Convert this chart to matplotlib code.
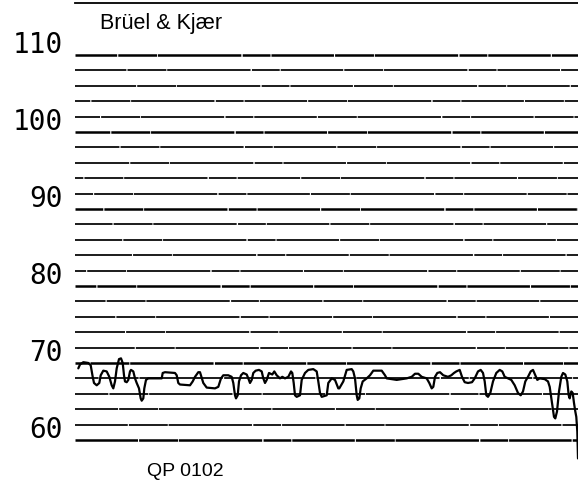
import matplotlib
matplotlib.use("Agg")
import matplotlib.pyplot as plt
from matplotlib.transforms import ScaledTranslation

plt.rcParams["lines.scale_dashes"] = False

# Level recorder trace (time in arbitrary recorder units, level in dB)
t = [3.3, 5, 8.3, 13.3, 15.7, 17.7, 19, 21.7, 24.3, 25.7, 28.3, 31.7, 34.3, 36.7, 38.3,
     40, 41.7, 44, 46, 47.7, 49, 50, 51.7, 53.3, 55, 56, 58.3, 60, 61.7, 64, 65.7, 66.7,
     68.3, 69.3, 71, 73.3, 86.7, 87.7, 90, 100, 101.7, 103.3, 105, 115, 117.7, 120,
     123.3, 125,
     128.3, 131.7, 140, 143.3, 146, 148.3, 153.3, 156.7, 158.3, 160, 161, 162.7, 164,
     166, 168.3, 171.7, 173.3, 175, 176.7, 178.3, 180.7, 184, 186.7, 188.3, 190, 191.7,
     194, 197.3, 199.3, 201.7, 205, 207.3, 210, 213.3, 216, 217.3, 218.7, 220, 221.7,
     225, 226.7, 230, 233.3, 238.3, 241.7, 243.3, 245, 246.7, 251.7,
     253.3, 256.7, 260, 263.3, 264.3, 268.3, 271.7, 276.7, 278.3, 280, 281.7, 282.7,
     284.3, 285.7, 287.7, 291.7, 295, 298.3, 306.7, 310, 311.7, 321.7, 331.7, 336.7,
     340, 343.3, 346.7, 351.7, 354.3, 356.7, 358.3, 360, 362.3, 365, 368.3, 373,
     376.3, 379, 381.3, 384.7, 387, 389.7, 393, 397, 399.7, 403, 405.7, 408, 409.7,
     411.3, 413, 415.3, 418, 421.3, 424.7, 427.3, 429.7, 433, 436.3, 439.7, 443, 445.7,
     448, 450.3, 453, 455.7, 458, 460.3, 462.3, 464.7, 469.7, 473, 474.7, 477, 479,
     480.3, 482, 484, 486.3, 488, 490.3, 492.3, 493.7, 494.7, 496.3, 497.7, 499, 500.3,
     501.3, 502.3, 503]
level = [69.3, 69.8, 70.1, 70.0, 69.7, 68.2, 67.4, 67.1, 67.4, 68.4, 69.0, 68.9, 68.2,
         67.1, 66.7, 67.6, 69.3, 70.5, 70.6, 70.0, 68.4, 67.6, 67.5, 67.8, 68.9, 69.1,
         68.9, 68.0, 67.4, 66.7, 65.4, 65.1, 65.4, 66.7, 67.8, 68.0, 68.0, 68.7, 68.8,
         68.7, 68.4, 67.4, 67.2, 67.1, 67.6, 68.2, 68.8, 68.8,
         67.4, 66.8, 66.7, 66.9, 68.0, 68.4, 68.4, 68.2, 67.4, 65.8, 65.4, 65.8, 67.6,
         68.4, 68.7, 68.5, 68.0, 67.4, 67.8, 68.7, 69.0, 69.1, 68.9, 68.0, 67.4, 67.8,
         68.7, 68.5, 68.9, 68.4, 68.0, 68.2, 68.0, 68.2, 68.9, 68.7, 67.4, 65.8, 65.6,
         65.8, 67.8, 68.7, 69.1, 69.2, 68.9, 67.6, 66.1, 65.6, 65.8,
         67.4, 68.0, 67.8, 66.7, 66.7, 67.6, 69.1, 69.2, 68.9, 68.0, 65.8, 65.2,
         65.4, 66.7, 67.6, 68.0, 68.4, 69.0, 69.0, 68.4, 68.0, 67.8, 68.0, 68.2,
         68.6, 68.6, 68.2, 68.0, 67.4, 66.7, 66.9, 68.2, 68.7, 68.8, 68.4, 68.2,
         68.4, 68.7, 68.9, 69.1, 68.2, 67.5, 67.4, 67.5, 68.0, 68.9, 69.1, 68.7, 67.6,
         65.8, 65.6, 66.1, 67.6, 68.7, 69.1, 68.9, 68.2, 68.0, 67.8, 67.1, 66.1, 65.8,
         66.3, 67.6, 68.2, 68.9, 69.1, 68.4, 67.8, 68.0, 67.9, 67.6, 66.9, 64.8, 63.0,
         62.8, 63.7, 66.3, 68.2, 68.7, 68.5, 67.6, 65.8, 65.4, 66.3, 66.1, 64.8, 63.7,
         63.0, 61.1, 57.6]

major_ticks = [110, 100, 90, 80, 70, 60]
major_labels = ["110", "100", "90", "80", "70", "60"]
grid_levels = list(range(60, 111, 2))
brand = "Brüel & Kjær"
paper_code = "QP 0102"

W, H = 578, 483
fig = plt.figure(figsize=(W / 100, H / 100), dpi=100)
fig.patch.set_facecolor("white")
ax = fig.add_axes([75 / W, 0, 503 / W, (H - 2.7) / H])
ax.set_xlim(0, 503)
ax.set_ylim(54.41, 116.79)

for i, g in enumerate(grid_levels):
    lw = 1.8 if g % 10 == 0 else 1.25
    pattern = (i * 7 % 40, (45, 0.8, 28, 0.6, 60, 1.0, 20, 0.7))
    ax.axhline(g, color="black", lw=lw, ls=pattern, zorder=1)

ax.plot(t, level, color="black", lw=1.6, solid_joinstyle="round",
        solid_capstyle="round", zorder=3)

for s in ["left", "right", "bottom"]:
    ax.spines[s].set_visible(False)
ax.spines["top"].set_linewidth(1.3)
ax.set_xticks([])
ax.set_yticks(major_ticks)
ax.set_yticklabels(major_labels, family="DejaVu Sans Mono", fontsize=20)
ax.tick_params(axis="y", length=0, pad=9)
offset = ScaledTranslation(0, 13 / 100, fig.dpi_scale_trans)
for lab in ax.get_yticklabels():
    lab.set_transform(lab.get_transform() + offset)

fig.text(100 / W, 1 - 29 / H, brand, family="Liberation Sans", fontsize=15.5,
         ha="left", va="baseline")
fig.text(147 / W, 1 - 476 / H, paper_code, family="Liberation Sans", fontsize=14,
         ha="left", va="baseline")

fig.savefig("out.png", dpi=100, facecolor="white")
